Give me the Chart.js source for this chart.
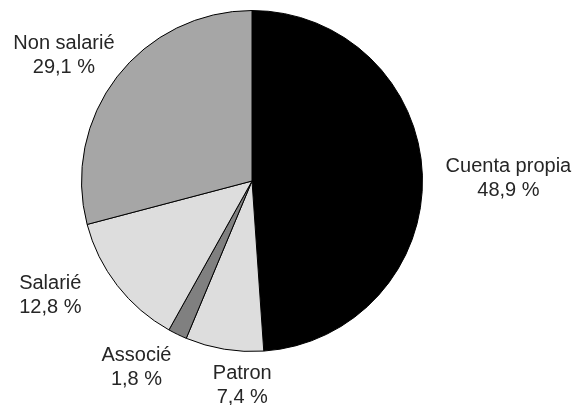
<!DOCTYPE html>
<html>
<head>
<meta charset="utf-8">
<script src="https://cdn.jsdelivr.net/npm/chart.js@4/dist/chart.umd.min.js"></script>
<style>
  html, body { margin: 0; padding: 0; background: #fff; }
  #wrap { width: 576px; height: 405px; }
</style>
</head>
<body>
<div id="wrap"><canvas id="pie"></canvas></div>
<script>
  const categories = ["Cuenta propia", "Patron", "Associé", "Salarié", "Non salarié"];
  const shares = [48.9, 7.4, 1.8, 12.8, 29.1];
  const sliceColors = ["#000000", "#dddddd", "#808080", "#dddddd", "#a6a6a6"];

  // where each label block sits relative to the slice's outer edge (dx, dy)
  const labelOffsets = [[86, 2], [18, 35], [-41, 32], [-67, 9], [-53, -22]];

  const fmt = v => v.toFixed(1).replace(".", ",") + " %";

  const outsideLabels = {
    id: "outsideLabels",
    afterDatasetsDraw(chart) {
      const ctx = chart.ctx;
      const arcs = chart.getDatasetMeta(0).data;
      ctx.save();
      ctx.font = "20px 'Liberation Sans', Arial, sans-serif";
      ctx.fillStyle = "#262626";
      ctx.textAlign = "center";
      ctx.textBaseline = "middle";
      arcs.forEach((arc, i) => {
        const a = (arc.startAngle + arc.endAngle) / 2;
        const r = arc.outerRadius;
        const x = arc.x + Math.cos(a) * r + labelOffsets[i][0];
        const y = arc.y + Math.sin(a) * r + labelOffsets[i][1];
        ctx.fillText(categories[i], x, y - 11);
        ctx.fillText(fmt(shares[i]), x, y + 13);
      });
      ctx.restore();
    }
  };

  new Chart(document.getElementById("pie"), {
    type: "pie",
    data: {
      labels: categories,
      datasets: [{
        data: shares,
        backgroundColor: sliceColors,
        borderColor: "#000000",
        borderWidth: 1
      }]
    },
    options: {
      responsive: true,
      maintainAspectRatio: false,
      animation: false,
      layout: { padding: { left: 81, right: 153, top: 10, bottom: 53 } },
      plugins: {
        legend: { display: false },
        tooltip: { enabled: false }
      }
    },
    plugins: [outsideLabels]
  });
</script>
</body>
</html>
